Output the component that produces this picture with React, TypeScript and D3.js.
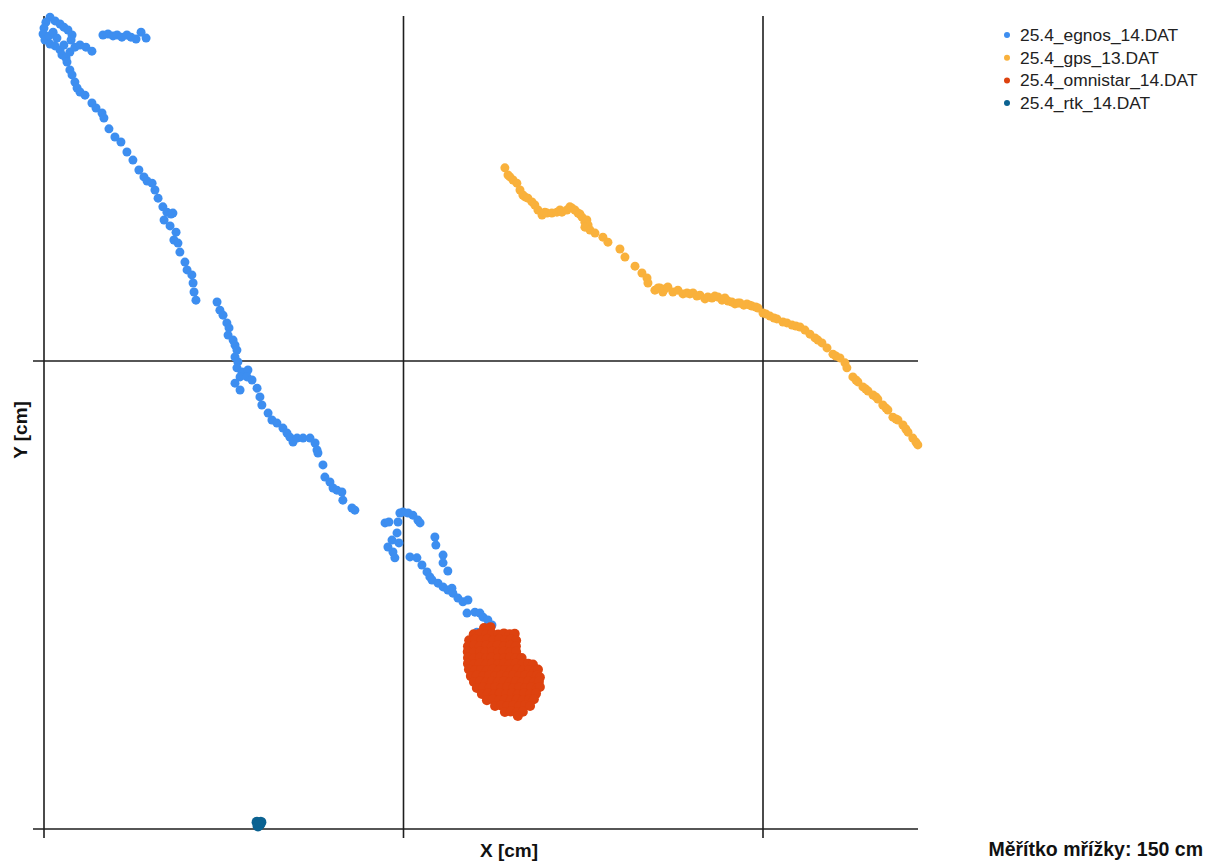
import React from "react";
import * as d3 from "d3";

type P = [number, number];

const seriesNames = ["25.4_egnos_14.DAT", "25.4_gps_13.DAT", "25.4_omnistar_14.DAT", "25.4_rtk_14.DAT"];
const seriesColors = ["#3d8ef0", "#f9b13c", "#dd420f", "#0b6291"];
const gridX = [0, 150, 300];
const gridY = [0, 150];
const gridLabel = "Měřítko mřížky: 150 cm";

const egnos: P[] = [
  [2.5, 260.2], [0.8, 258.6], [4.6, 259.0], [6.7, 258.0], [8.3, 257.0], [10.0, 256.1], [11.7, 254.5], [11.3, 252.9],
  [0, 256.7], [-0.4, 254.8], [0.4, 252.9], [2.1, 254.2], [3.8, 255.4], [5.4, 253.5], [2.5, 251.6], [4.6, 251.0],
  [6.7, 249.7], [7.5, 248.1], [9.2, 247.1], [8.3, 251.3], [10.8, 249.0], [12.9, 250.6], [15.0, 251.3], [17.5, 250.6], [20.0, 249.3],
  [24.6, 254.5], [26.7, 254.8], [28.8, 254.2], [30.5, 254.5], [32.5, 253.8], [34.6, 254.5], [36.3, 253.8], [38.4, 253.2], [40.5, 255.4], [42.6, 253.5],
  [9.6, 245.8], [10.8, 243.3], [11.7, 241.7], [12.9, 239.4], [13.8, 237.5], [15.0, 236.2], [17.1, 235.2], [20.0, 232.7], [21.7, 231.1],
  [24.2, 229.5], [25.0, 227.9], [27.1, 224.4], [29.6, 221.8], [32.1, 220.2], [34.6, 217.0], [37.1, 214.4], [39.6, 211.2], [41.7, 209.0],
  [43.0, 207.7], [45.1, 207.0], [46.3, 204.8], [47.6, 202.2], [49.6, 199.4], [51.3, 197.7], [53.0, 197.1], [53.8, 197.4], [50.1, 195.2],
  [52.6, 193.3], [55.1, 191.3], [54.2, 188.8], [55.9, 187.8], [56.7, 184.9], [58.8, 181.7], [59.7, 179.2], [61.7, 177.6], [62.2, 175.0],
  [62.6, 172.1], [63.4, 169.5],
  [72.2, 168.9], [73.4, 166.3], [74.7, 164.7], [76.3, 162.2], [77.2, 160.6], [76.8, 158.3], [78.9, 156.7], [79.7, 155.1], [80.5, 153.5],
  [79.7, 151.3], [80.9, 149.7], [80.5, 147.8], [82.6, 146.5], [85.1, 147.1], [81.8, 144.9], [79.7, 142.9], [81.8, 140.7], [84.7, 144.9],
  [86.8, 143.9], [88.9, 141.3], [90.1, 138.5], [90.9, 135.9], [93.5, 133.3], [95.1, 131.1], [97.2, 130.1], [99.7, 128.5], [101.4, 126.9],
  [102.6, 125.6], [103.9, 124.0], [105.6, 125.3], [108.1, 125.3], [111.0, 125.3], [113.1, 123.7], [113.9, 121.5], [114.3, 120.5],
  [116.4, 116.7], [117.2, 112.8], [119.3, 111.2], [120.6, 109.3], [122.2, 108.6], [124.3, 108.0], [124.7, 105.4], [128.5, 102.9], [129.7, 102.2],
  [142.3, 98.1], [143.9, 98.4], [147.7, 98.4], [148.5, 101.3], [149.8, 101.6], [151.9, 101.3], [153.9, 100.6], [156.0, 99.0], [156.9, 98.1],
  [147.3, 94.9], [145.2, 92.6], [143.5, 90.4], [145.6, 88.8], [146.4, 86.9], [148.1, 91.7], [163.1, 93.6], [163.5, 91.0], [166.5, 87.8],
  [166.5, 85.3], [168.5, 82.7], [152.7, 87.2], [155.6, 86.9], [157.7, 84.6], [159.8, 82.4], [161.0, 80.8], [161.9, 79.8], [164.4, 78.8],
  [166.5, 77.6], [168.5, 76.6], [170.2, 77.2], [170.6, 75.6], [172.7, 74.0], [174.8, 72.8], [176.9, 73.4], [176.5, 69.2], [179.8, 69.5],
  [181.9, 69.2], [183.2, 67.9], [185.2, 67.0], [186.9, 65.4], [180.6, 63.1], [184.8, 64.7],
];

const gps: P[] = [
  [192.3, 211.9], [193.6, 209.6], [194.4, 209.0], [195.7, 208.0], [197.3, 207.0], [198.6, 204.8], [199.8, 203.2], [200.7, 202.6],
  [201.9, 202.2], [203.6, 201.0], [204.8, 200.0], [206.1, 198.4], [207.8, 196.8], [209.0, 197.7], [209.9, 197.4], [211.9, 197.4],
  [214.0, 197.7], [215.3, 198.4], [216.1, 197.7], [218.2, 198.4], [219.4, 199.4], [220.3, 199.0], [221.5, 198.4], [222.8, 197.4],
  [223.6, 197.1], [224.5, 196.1], [225.7, 194.5], [226.5, 195.2], [227.0, 193.6], [225.7, 192.9], [227.8, 192.0], [229.9, 191.0],
  [233.2, 189.7], [235.3, 188.1], [240.3, 185.9], [242.4, 183.3], [246.6, 180.4], [249.5, 178.2], [251.6, 176.6], [252.0, 175.0],
  [254.9, 172.7], [256.2, 173.4], [257.0, 173.4], [258.2, 172.1], [259.1, 173.1], [260.3, 173.7], [262.4, 172.1], [264.5, 172.7],
  [266.6, 171.5], [268.3, 171.8], [269.5, 171.5], [270.8, 171.8], [272.4, 170.8], [273.7, 171.1], [275.8, 169.9], [277.0, 170.5],
  [278.7, 170.2], [279.9, 170.8], [281.2, 170.5], [282.9, 169.5], [284.1, 170.2], [285.4, 169.2], [287.0, 168.9], [288.3, 168.3],
  [289.5, 168.6], [290.4, 168.6], [292.0, 167.9], [293.3, 168.3], [294.5, 167.9], [295.4, 167.6], [297.0, 167.3], [297.9, 167.0],
  [300.0, 165.4], [301.2, 165.1], [302.9, 164.4], [304.6, 163.8], [305.8, 163.5], [308.3, 162.5], [310.0, 162.2], [312.1, 161.5],
  [313.7, 161.2], [315.4, 160.9], [317.5, 159.9], [319.6, 158.6], [321.7, 157.4], [322.9, 156.7], [324.6, 155.8], [326.7, 154.2],
  [329.2, 152.2], [330.4, 151.6], [332.1, 151.0], [334.2, 149.4], [335.0, 147.8], [337.5, 144.9], [338.8, 143.9], [339.6, 143.3],
  [341.7, 141.7], [342.9, 141.0], [343.8, 140.4], [345.9, 139.1], [347.1, 138.5], [347.9, 137.8], [350.0, 135.9], [351.3, 134.9],
  [352.1, 134.3], [354.2, 132.0], [355.5, 131.4], [356.3, 131.1], [358.4, 129.5], [359.6, 128.2], [360.5, 127.2], [362.5, 125.3],
  [363.8, 124.0], [364.6, 123.1],
];

const omnistar: P[] = [
  [183.6, 64.4], [186.3, 64.7], [185.0, 63.3],
  [179.3, 62.4], [181.9, 62.7], [184.5, 62.3], [186.9, 62.6], [189.5, 62.3], [191.9, 62.7], [194.3, 62.4], [196.4, 62.6],
  [177.4, 60.5], [179.9, 60.8], [182.4, 60.5], [184.8, 60.7], [187.4, 60.4], [189.9, 60.7], [192.4, 60.5], [194.8, 60.8], [197.0, 60.4],
  [176.9, 58.6], [179.5, 58.9], [181.8, 58.5], [184.5, 58.8], [186.9, 58.6], [189.3, 58.9], [191.9, 58.5], [194.5, 58.8], [196.9, 58.6],
  [176.8, 56.8], [179.4, 56.5], [182.0, 56.9], [184.3, 56.6], [187.0, 56.8], [189.5, 56.5], [191.8, 56.9], [194.4, 56.6], [197.0, 56.8],
  [176.9, 54.9], [179.3, 54.6], [181.9, 54.9], [184.5, 54.7], [186.8, 54.9], [189.4, 54.6], [192.0, 54.8], [194.4, 54.9], [196.8, 54.6], [199.3, 54.8],
  [176.9, 53.0], [179.5, 52.7], [181.8, 53.0], [184.4, 52.8], [186.9, 53.0], [189.5, 52.7], [191.9, 53.0], [194.3, 52.8], [196.9, 53.0], [199.5, 52.8], [202.0, 53.0], [204.0, 52.7],
  [177.3, 51.1], [179.8, 50.8], [182.3, 51.0], [184.8, 50.9], [187.3, 51.1], [189.8, 50.8], [192.3, 51.0], [194.8, 50.9], [197.3, 51.1], [199.8, 50.8], [202.4, 51.0], [204.8, 50.9], [206.1, 51.1],
  [178.1, 49.0], [180.6, 49.2], [183.2, 48.9], [185.7, 49.1], [188.2, 48.9], [190.7, 49.1], [193.2, 48.9], [195.7, 49.2], [198.2, 48.9], [200.7, 49.1], [203.2, 48.9], [205.7, 49.1], [206.9, 48.6],
  [179.4, 47.1], [181.9, 47.3], [184.4, 47.0], [186.9, 47.2], [189.4, 47.0], [191.9, 47.3], [194.4, 47.0], [196.9, 47.2], [199.4, 47.0], [202.0, 47.3], [204.4, 47.0], [206.5, 47.2],
  [180.6, 45.2], [183.2, 45.4], [185.7, 45.1], [188.2, 45.3], [190.7, 45.1], [193.2, 45.4], [195.7, 45.1], [198.2, 45.3], [200.7, 45.1], [203.2, 45.3], [205.7, 45.1], [206.9, 45.5],
  [182.7, 43.3], [185.2, 43.5], [187.7, 43.2], [190.2, 43.4], [192.8, 43.2], [195.3, 43.5], [197.7, 43.2], [200.3, 43.4], [202.8, 43.2], [205.3, 43.4],
  [184.8, 41.3], [187.3, 41.5], [189.8, 41.2], [192.3, 41.4], [194.8, 41.2], [197.3, 41.5], [199.8, 41.2], [202.4, 41.4], [204.4, 41.6],
  [188.2, 39.4], [190.7, 39.6], [193.2, 39.3], [195.7, 39.5], [198.2, 39.3], [200.7, 39.6], [202.8, 39.4],
  [192.3, 37.5], [194.8, 37.7], [197.3, 37.4], [199.8, 37.6],
  [197.7, 36.2],
];

const rtk: P[] = [
  [88.9, 2.2], [90.1, 1.6], [89.3, 1.0], [90.5, 2.2], [89.7, 1.3],
];

const allSeries: P[][] = [egnos, gps, omnistar, rtk];
const radii = [4.5, 4.5, 5, 5.5];

export default function App() {
  const x = d3.scaleLinear().domain([0, 150]).range([44, 403.5]);
  const y = d3.scaleLinear().domain([0, 150]).range([829, 361]);
  const xMax = x.invert(918);
  const yMax = y.invert(16);
  const lineColor = "#1e1e1e";
  return (
    <svg
      width={1211}
      height={863}
      style={{ position: "absolute", left: 0, top: 0, background: "#fff" }}
      fontFamily="Liberation Sans, Arial, sans-serif"
    >
      {gridX.map((g) => (
        <line key={"gx" + g} x1={x(g)} x2={x(g)} y1={y(yMax)} y2={y(0) + 9} stroke={lineColor} strokeWidth={1.6} />
      ))}
      {gridY.map((g) => (
        <line key={"gy" + g} x1={x(0) - 11} x2={x(xMax)} y1={y(g)} y2={y(g)} stroke={lineColor} strokeWidth={1.6} />
      ))}
      {allSeries.map((s, i) => (
        <g key={"s" + i} fill={seriesColors[i]}>
          {s.map((p, j) => (
            <circle key={j} cx={x(p[0])} cy={y(p[1])} r={radii[i]} />
          ))}
        </g>
      ))}
      {seriesNames.map((n, i) => (
        <g key={"l" + i} transform={`translate(1007, ${35 + i * 22.7})`}>
          <circle cx={0} cy={0} r={3} fill={seriesColors[i]} />
          <text x={13} y={6} fontSize={17.4} fill="#222">
            {n}
          </text>
        </g>
      ))}
      <text x={509} y={857} textAnchor="middle" fontSize={19} fontWeight="bold" fill="#111">
        X [cm]
      </text>
      <text
        transform="translate(27, 430) rotate(-90)"
        textAnchor="middle"
        fontSize={19}
        fontWeight="bold"
        fill="#111"
      >
        Y [cm]
      </text>
      <text x={1203} y={856} textAnchor="end" fontSize={19.5} fontWeight="bold" fill="#111">
        {gridLabel}
      </text>
    </svg>
  );
}
